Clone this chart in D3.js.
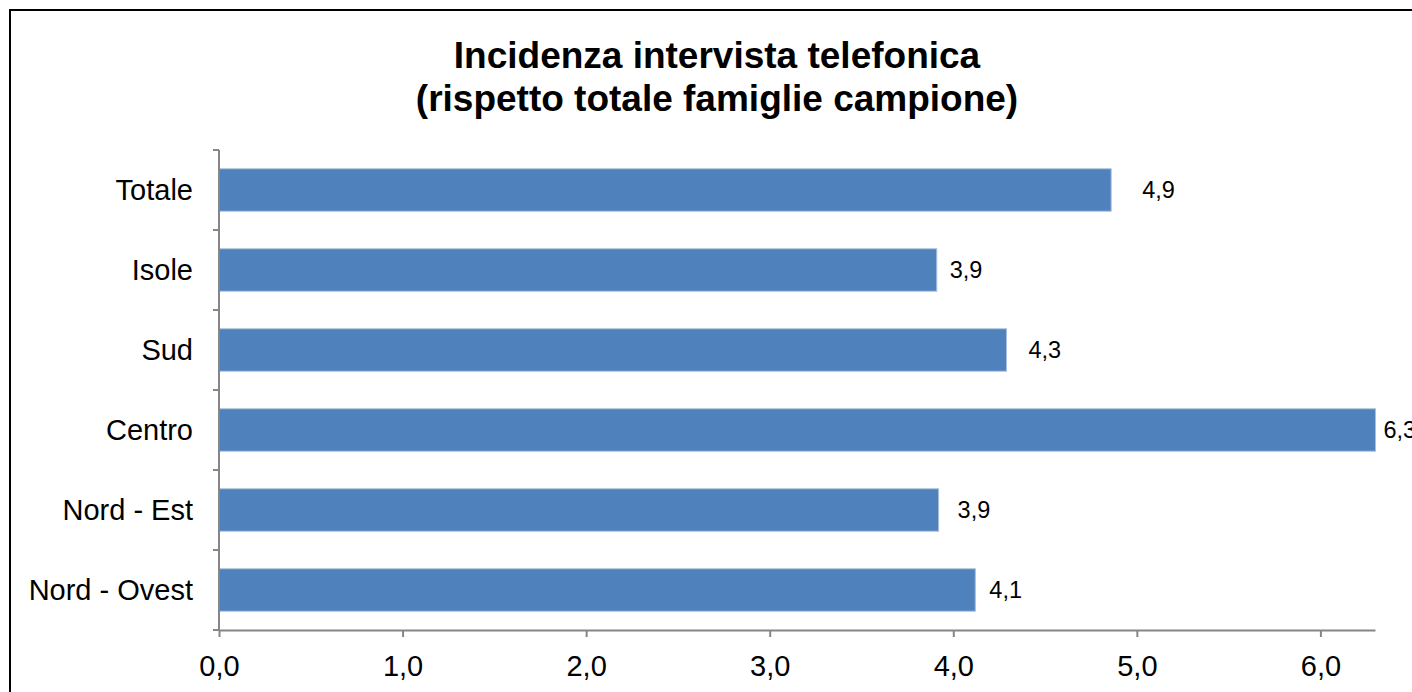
<!DOCTYPE html>
<html>
<head>
<meta charset="utf-8">
<script src="https://cdn.jsdelivr.net/npm/d3@7"></script>
<style>
  body { margin: 0; background: #fff; }
  svg { display: block; font-family: "Liberation Sans", Arial, sans-serif; }
</style>
</head>
<body>
<div id="chart"></div>
<script>
// categories, bottom to top as drawn
const categories = ["Nord - Ovest", "Nord - Est", "Centro", "Sud", "Isole", "Totale"];
const values = [4.12, 3.92, 6.3, 4.29, 3.91, 4.86];
const valueLabels = ["4,1", "3,9", "6,3", "4,3", "3,9", "4,9"];
const tickValues = [0, 1, 2, 3, 4, 5, 6];
const titleLines = ["Incidenza intervista telefonica", "(rispetto totale famiglie campione)"];
// hand-placed label offsets from bar end (as in the original)
const labelNudge = [14, 19, 8, 22, 13, 31];

const W = 1412, H = 692;
const svg = d3.select("#chart").append("svg")
    .attr("width", W)
    .attr("height", H);

// outer frame
svg.append("rect")
    .attr("x", 10).attr("y", 10)
    .attr("width", W + 20).attr("height", H + 20)
    .attr("fill", "none")
    .attr("stroke", "#000")
    .attr("stroke-width", 2);

// title
svg.append("text")
    .attr("text-anchor", "middle")
    .attr("font-size", 37)
    .attr("font-weight", "bold")
    .selectAll("tspan")
    .data(titleLines)
    .enter()
    .append("tspan")
    .attr("x", 717)
    .attr("y", (d, i) => 68 + i * 43)
    .text(d => d);

const x = d3.scaleLinear().domain([0, 6.3]).range([219, 1375.5]);
const y = d3.scaleBand().domain(categories.slice().reverse()).range([150, 630]).paddingInner(0.47).paddingOuter(0.235);

const rows = categories.map((c, i) => ({ cat: c, v: values[i], label: valueLabels[i], nudge: labelNudge[i] }));

// bars
svg.append("g").selectAll("rect")
    .data(rows)
    .enter()
    .append("rect")
    .attr("x", x(0))
    .attr("y", d => y(d.cat))
    .attr("width", d => x(d.v) - x(0))
    .attr("height", y.bandwidth())
    .attr("fill", "#4F81BD")
    .attr("stroke", "#A7C0DE")
    .attr("stroke-width", 1);

// value labels
svg.append("g").selectAll("text")
    .data(rows)
    .enter()
    .append("text")
    .attr("x", d => x(d.v) + d.nudge)
    .attr("y", d => y(d.cat) + y.bandwidth() / 2)
    .attr("dy", "0.36em")
    .attr("font-size", 23.5)
    .attr("fill", "#000")
    .text(d => d.label);

const axisColor = "#868686";

// y axis: line with ticks at category boundaries
const yAxis = svg.append("g");
yAxis.append("line")
    .attr("x1", x(0)).attr("x2", x(0))
    .attr("y1", 150).attr("y2", 630)
    .attr("stroke", axisColor).attr("stroke-width", 2);
yAxis.selectAll("line.tick")
    .data(d3.range(categories.length + 1))
    .enter()
    .append("line")
    .attr("class", "tick")
    .attr("x1", x(0) - 6).attr("x2", x(0))
    .attr("y1", i => 150 + i * y.step())
    .attr("y2", i => 150 + i * y.step())
    .attr("stroke", axisColor).attr("stroke-width", 2);
yAxis.selectAll("text")
    .data(categories)
    .enter()
    .append("text")
    .attr("x", 193)
    .attr("y", d => y(d) + y.bandwidth() / 2)
    .attr("dy", "0.36em")
    .attr("text-anchor", "end")
    .attr("font-size", 29)
    .attr("fill", "#000")
    .text(d => d);

// x axis
const xAxis = svg.append("g")
    .attr("transform", "translate(0,630)")
    .call(d3.axisBottom(x)
        .tickValues(tickValues)
        .tickSize(7)
        .tickFormat(d => d3.format(".1f")(d).replace(".", ",")));
xAxis.select(".domain").attr("stroke", axisColor).attr("stroke-width", 2)
    .attr("d", `M${x(0)},0.5H${x(6.3)}`);
xAxis.selectAll(".tick line").attr("stroke", axisColor).attr("stroke-width", 2);
xAxis.selectAll(".tick text")
    .attr("y", 46)
    .attr("dy", 0)
    .attr("font-size", 29)
    .attr("font-family", "Liberation Sans, Arial, sans-serif")
    .attr("fill", "#000");
</script>
</body>
</html>
